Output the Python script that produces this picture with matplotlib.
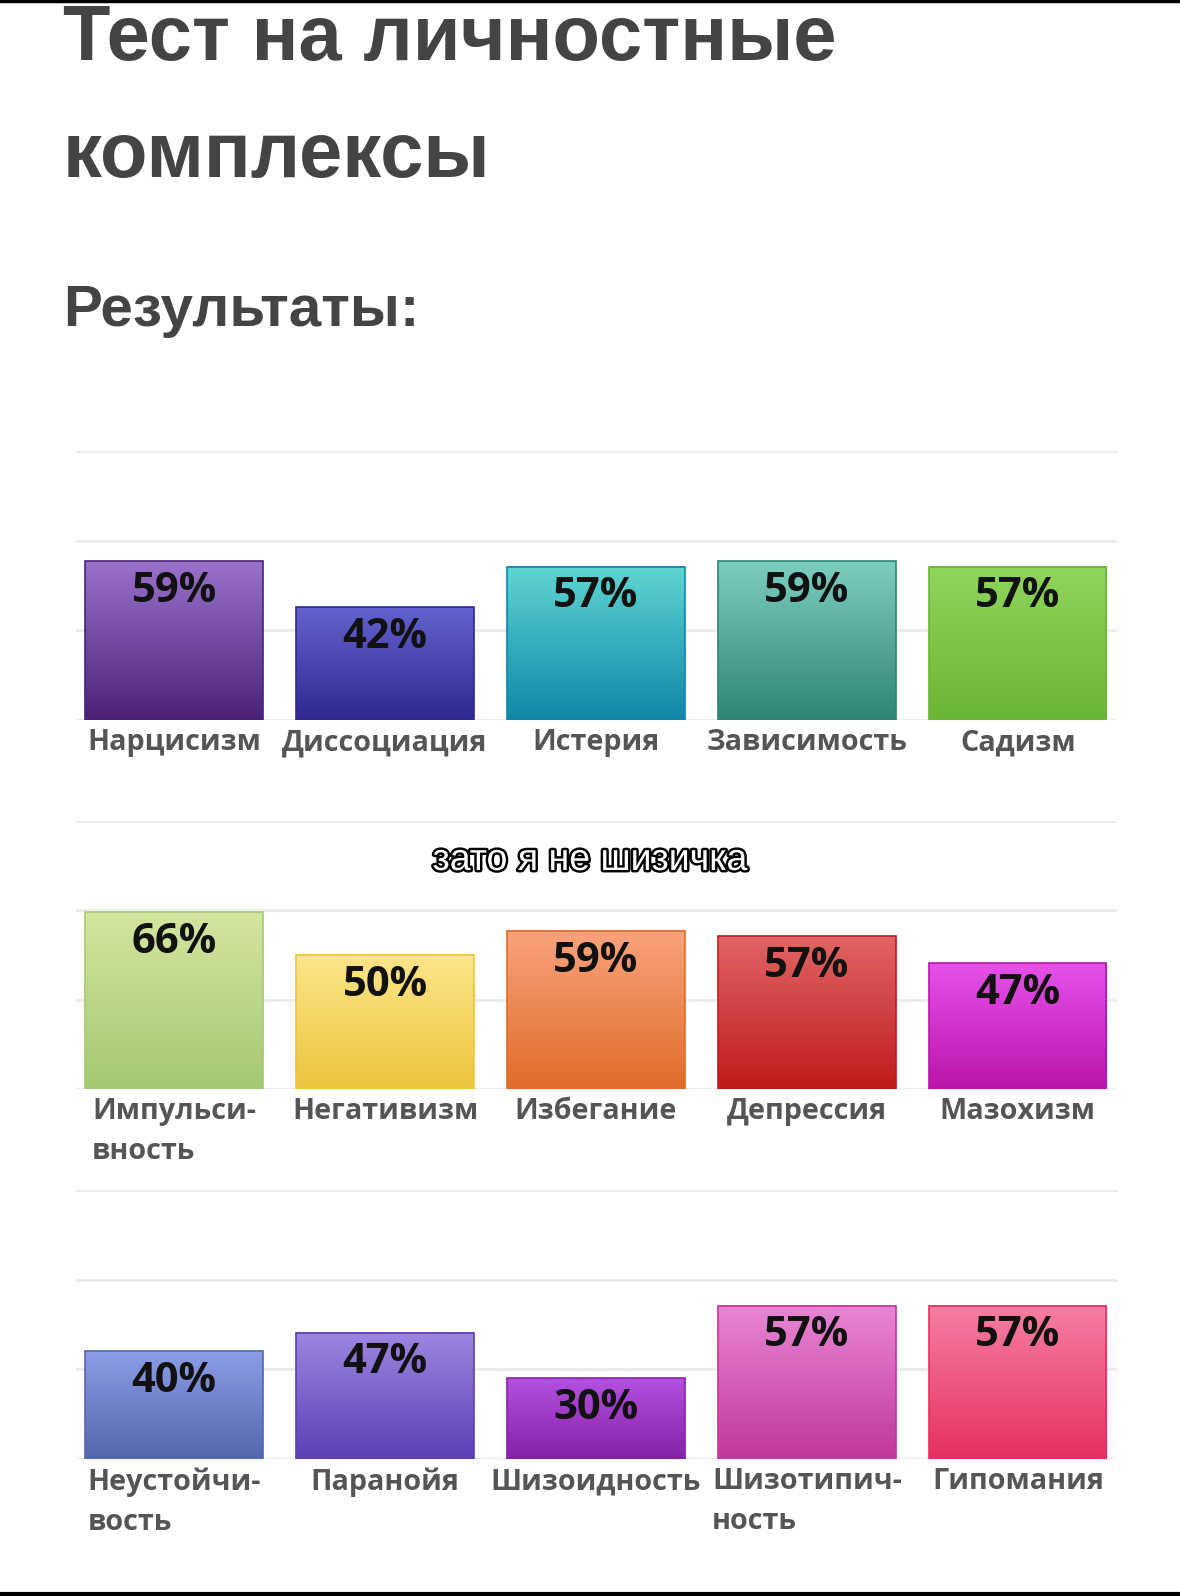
import numpy as np
import matplotlib
matplotlib.use("Agg")
import matplotlib.pyplot as plt
from matplotlib.colors import LinearSegmentedColormap
from matplotlib.lines import Line2D
import matplotlib.patheffects as pe

# данные
labels1 = ["Нарцисизм", "Диссоциация", "Истерия", "Зависимость", "Садизм"]
values1 = [59, 42, 57, 59, 57]
labels2 = ["Импульси-\nвность", "Негативизм", "Избегание", "Депрессия", "Мазохизм"]
values2 = [66, 50, 59, 57, 47]
labels3 = ["Неустойчи-\nвость", "Паранойя", "Шизоидность", "Шизотипич-\nность", "Гипомания"]
values3 = [40, 47, 30, 57, 57]

# цвета (верх, низ)
top1 = ["#9a72cc", "#6462d0", "#5ed6d2", "#7ccfbf", "#8fd65c"]
bot1 = ["#4b2178", "#2e2890", "#0f86a8", "#2e8475", "#6bb534"]
top2 = ["#d3e6a0", "#fde68a", "#f9a37c", "#e26464", "#e651ec"]
bot2 = ["#a5c872", "#ecc53c", "#e06c2a", "#be1b1b", "#bb14a8"]
top3 = ["#8a9de6", "#9d86e0", "#b450e0", "#ea86d6", "#f67fa2"]
bot3 = ["#5466ad", "#5b3fb5", "#8420a8", "#c0379a", "#e63060"]

W, H = 1180, 1596
fig = plt.figure(figsize=(W / 100, H / 100), dpi=100)
fig.patch.set_facecolor("white")

def fy(px):
    return 1 - px / H

# заголовки
fig.text(63 / W, fy(60), "Тест на личностные", family="Liberation Sans", weight="bold",
         size=56, color="#444444", va="baseline", ha="left")
fig.text(63 / W, fy(177), "комплексы", family="Liberation Sans", weight="bold",
         size=56, color="#444444", va="baseline", ha="left")
fig.text(63 / W, fy(326), "Результаты:", family="Liberation Sans", weight="bold",
         size=42, color="#444444", va="baseline", ha="left")


def panel(rect, labels, values, tops, bots):
    ax = fig.add_axes(rect)
    x = np.arange(len(values))
    bars = ax.bar(x, values, width=0.84, color="none", zorder=3)
    for b, v, ct, cb in zip(bars, values, tops, bots):
        cmap = LinearSegmentedColormap.from_list("g", [cb, ct])
        grad = np.linspace(0, 1, 256).reshape(-1, 1)
        ax.imshow(grad, cmap=cmap, origin="lower", aspect="auto", zorder=2,
                  extent=[b.get_x(), b.get_x() + b.get_width(), 0, b.get_height()])
        b.set_edgecolor(cb)
        b.set_linewidth(1.2)
        ax.annotate(f"{v}%", (b.get_x() + b.get_width() / 2, b.get_height()),
                    xytext=(0, -7), textcoords="offset points", ha="center", va="top",
                    family="Open Sans", weight="bold", size=30, color="#111111", zorder=5)
    ax.set_xlim(-0.465, 4.47)
    ax.set_ylim(0, 100)
    ax.set_yticks([0, 100 / 3, 200 / 3, 100])
    ax.grid(axis="y", color="#ebebeb", linewidth=2, zorder=0)
    ax.set_axisbelow(True)
    ax.set_xticks(x)
    ax.set_xticklabels([])
    ax.tick_params(length=0, labelleft=False)
    for s in ax.spines.values():
        s.set_visible(False)
    for xi, lab in zip(x, labels):
        ax.annotate(lab, (xi, 0), xytext=(0, -6), textcoords="offset points",
                    ha="center", va="top", multialignment="left", linespacing=1.5,
                    family="Open Sans", weight="bold", size=20.7, color="#555555")
    return ax


left = 76 / W
width = (1117 - 76) / W
panel([left, fy(720), width, (720 - 451) / H], labels1, values1, top1, bot1)
panel([left, fy(1089), width, (1089 - 821) / H], labels2, values2, top2, bot2)
panel([left, fy(1459), width, (1459 - 1190) / H], labels3, values3, top3, bot3)

# подпись
fig.text(590 / W, fy(860), "зато я не шизичка", family="Liberation Sans", size=27,
         color="white", ha="center", va="center",
         path_effects=[pe.withStroke(linewidth=3.5, foreground="black")])

# чёрные линии сверху и снизу
fig.add_artist(Line2D([0, 1], [fy(1), fy(1)], color="black", linewidth=2.5))
fig.add_artist(Line2D([0, 1], [fy(1594), fy(1594)], color="black", linewidth=3))

fig.savefig("out.png", dpi=100)
